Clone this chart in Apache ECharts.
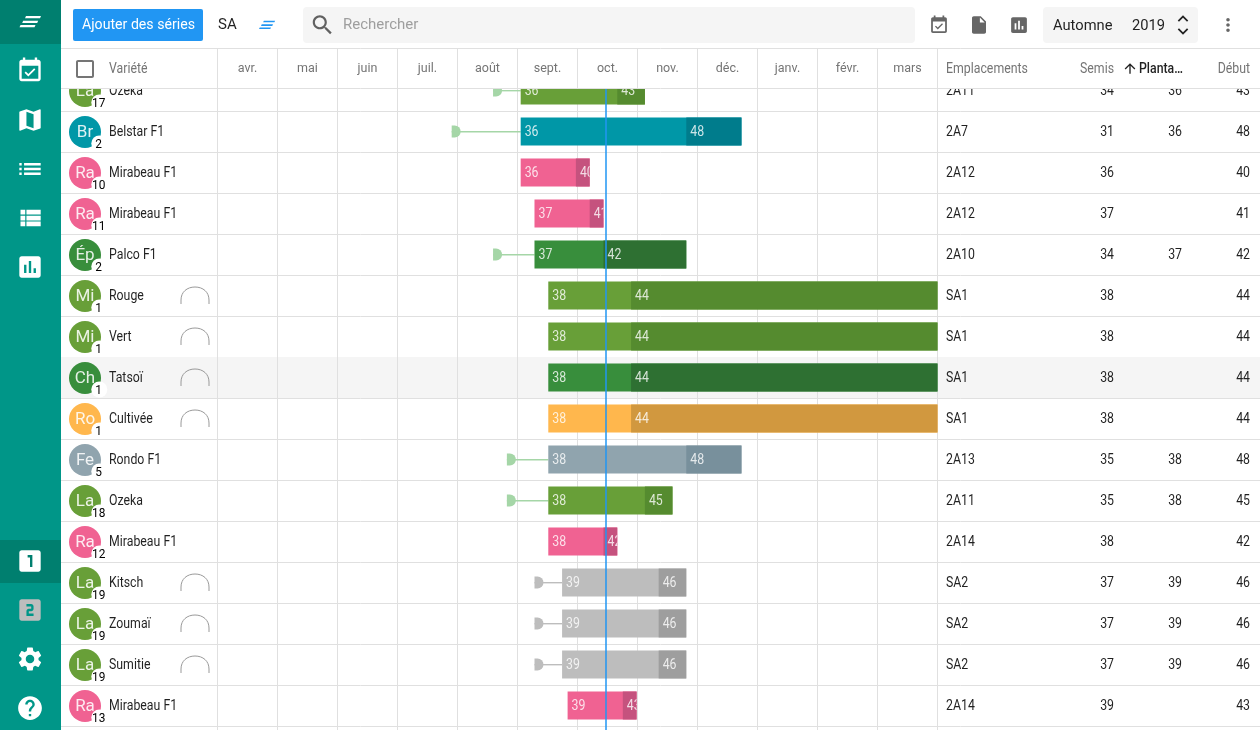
<!DOCTYPE html>
<html>
<head>
<meta charset="utf-8">
<title>Séries</title>
<script src="https://cdn.jsdelivr.net/npm/echarts@6/dist/echarts.min.js"></script>
<style>
html, body {margin: 0; padding: 0; background: #fff; overflow: hidden;}
#chart {width: 1260px; height: 730px;}
</style>
</head>
<body>
<div id="chart"></div>
<script>
//---------------------------Data---------------------------
let monthLabels = ['avr.', 'mai', 'juin', 'juil.', 'août', 'sept.', 'oct.', 'nov.', 'déc.', 'janv.', 'févr.', 'mars'];

let varietyNames = ['Ozeka', 'Belstar F1', 'Mirabeau F1', 'Mirabeau F1', 'Palco F1', 'Rouge', 'Vert', 'Tatsoï', 'Cultivée', 'Rondo F1', 'Ozeka', 'Mirabeau F1', 'Kitsch', 'Zoumaï', 'Sumitie', 'Mirabeau F1'];
let cropCodes = ['La', 'Br', 'Ra', 'Ra', 'Ép', 'Mi', 'Mi', 'Ch', 'Ro', 'Fe', 'La', 'Ra', 'La', 'La', 'La', 'Ra'];
let seriesNumbers = [17, 2, 10, 11, 2, 1, 1, 1, 1, 5, 18, 12, 19, 19, 19, 13];
let locations = ['2A11', '2A7', '2A12', '2A12', '2A10', 'SA1', 'SA1', 'SA1', 'SA1', '2A13', '2A11', '2A14', 'SA2', 'SA2', 'SA2', '2A14'];
let sowWeeks = [34, 31, 36, 37, 34, 38, 38, 38, 38, 35, 35, 38, 37, 37, 37, 39];
let plantWeeks = [36, 36, null, null, 37, null, null, null, null, 38, 38, null, 39, 39, 39, null];
let harvestWeeks = [43, 48, 40, 41, 42, 44, 44, 44, 44, 48, 45, 42, 46, 46, 46, 43];

// bars as they sit on the week scale
let barStarts = [36, 36, 36, 37, 37, 38, 38, 38, 38, 38, 38, 38, 39, 39, 39, 39.4];
let barSplits = [43, 48, 40, 41, 42, 44, 44, 44, 44, 48, 45, 42, 46, 46, 46, 43.4];
let barEnds = [45, 52, 41, 42, 48, 67, 67, 67, 67, 52, 47, 43, 48, 48, 48, 44.4];

let tunnelRows = [5, 6, 7, 8, 12, 13, 14];
let pendingRows = [12, 13, 14];
let hoveredRow = 7;
let todayWeek = 42.2;

//---------------------------Style---------------------------
let weekMin = 14.03;
let weekMax = 66.204;
let rowHeight = 41;
let gridTop = 70;
let gridHeight = 660;
let rowSpan = gridHeight / rowHeight;

let cropColors = {
    'La': ['#689f38', '#558b2f'],
    'Mi': ['#689f38', '#558b2f'],
    'Br': ['#0097a7', '#007c8c'],
    'Ra': ['#f06292', '#c5527e'],
    'Ép': ['#388e3c', '#2e7032'],
    'Ch': ['#388e3c', '#2e7032'],
    'Ro': ['#ffb74d', '#d1983f'],
    'Fe': ['#90a4ae', '#78909c']
};
let pendingColors = ['#bdbdbd', '#9e9e9e'];
let gridColor = '#e0e0e0';
let narrow = 0.88;

let icons = {
    event: 'M16.53 11.06L15.47 10l-4.88 4.88-2.12-2.12-1.06 1.06L10.59 17l5.94-5.94zM19 3h-1V1h-2v2H8V1H6v2H5c-1.11 0-1.99.9-1.99 2L3 19c0 1.1.89 2 2 2h14c1.1 0 2-.9 2-2V5c0-1.1-.9-2-2-2zm0 16H5V8h14v11z',
    map: 'M20.5 3l-.16.03L15 5.1 9 3 3.36 4.9c-.21.07-.36.25-.36.48V20.5c0 .28.22.5.5.5l.16-.03L9 18.9l6 2.1 5.64-1.9c.21-.07.36-.25.36-.48V3.5c0-.28-.22-.5-.5-.5zM15 19l-6-2.11V5l6 2.11V19z',
    list: 'M3 13h2v-2H3v2zm0 4h2v-2H3v2zm0-8h2V7H3v2zm4 4h14v-2H7v2zm0 4h14v-2H7v2zM7 7v2h14V7H7z',
    table: 'M4 14h4v-4H4v4zm0 5h4v-4H4v4zM4 9h4V5H4v4zm5 5h12v-4H9v4zm0 5h12v-4H9v4zM9 5v4h12V5H9z',
    chart: 'M19 3H5c-1.1 0-2 .9-2 2v14c0 1.1.9 2 2 2h14c1.1 0 2-.9 2-2V5c0-1.1-.9-2-2-2zM9 17H7v-7h2v7zm4 0h-2V7h2v10zm4 0h-2v-4h2v4z',
    one: 'M19 3H5c-1.1 0-2 .9-2 2v14c0 1.1.9 2 2 2h14c1.1 0 2-.9 2-2V5c0-1.1-.9-2-2-2zm-5 14h-2V9h-2V7h4v10z',
    two: 'M19 3H5c-1.1 0-1.99.9-1.99 2L3 19c0 1.1.9 2 2 2h14c1.1 0 2-.9 2-2V5c0-1.1-.9-2-2-2zm-4 8c0 1.11-.9 2-2 2h-2v2h4v2H9v-4c0-1.11.9-2 2-2h2V9H9V7h4c1.1 0 2 .89 2 2v2z',
    settings: 'M19.14 12.94c.04-.3.06-.61.06-.94 0-.32-.02-.64-.07-.94l2.03-1.58c.18-.14.23-.41.12-.61l-1.92-3.32c-.12-.22-.37-.29-.59-.22l-2.39.96c-.5-.38-1.03-.7-1.62-.94l-.36-2.54c-.04-.24-.24-.41-.48-.41h-3.84c-.24 0-.43.17-.47.41l-.36 2.54c-.59.24-1.13.57-1.62.94l-2.39-.96c-.22-.08-.47 0-.59.22L2.74 8.87c-.12.21-.08.47.12.61l2.03 1.58c-.05.3-.09.63-.09.94s.02.64.07.94l-2.03 1.58c-.18.14-.23.41-.12.61l1.92 3.32c.12.22.37.29.59.22l2.39-.96c.5.38 1.03.7 1.62.94l.36 2.54c.05.24.24.41.48.41h3.84c.24 0 .44-.17.47-.41l.36-2.54c.59-.24 1.13-.56 1.62-.94l2.39.96c.22.08.47 0 .59-.22l1.92-3.32c.12-.22.07-.47-.12-.61l-2.01-1.58zM12 15.6c-1.98 0-3.6-1.62-3.6-3.6s1.62-3.6 3.6-3.6 3.6 1.62 3.6 3.6-1.62 3.6-3.6 3.6z',
    help: 'M12 2C6.48 2 2 6.48 2 12s4.48 10 10 10 10-4.48 10-10S17.52 2 12 2zm1 17h-2v-2h2v2zm2.07-7.75l-.9.92C13.45 12.9 13 13.5 13 15h-2v-.5c0-1.1.45-2.1 1.17-2.83l1.24-1.26c.37-.36.59-.86.59-1.41 0-1.1-.9-2-2-2s-2 .9-2 2H8c0-2.21 1.79-4 4-4s4 1.79 4 4c0 .88-.36 1.68-.93 2.25z',
    search: 'M15.5 14h-.79l-.28-.27C15.41 12.59 16 11.11 16 9.5 16 5.91 13.09 3 9.5 3S3 5.91 3 9.5 5.91 16 9.5 16c1.61 0 3.09-.59 4.23-1.57l.27.28v.79l5 4.99L20.49 19l-4.99-5zm-6 0C7.01 14 5 11.99 5 9.5S7.01 5 9.5 5 14 7.01 14 9.5 11.99 14 9.5 14z',
    file: 'M6 2c-1.1 0-1.99.9-1.99 2L4 20c0 1.1.89 2 1.99 2H18c1.1 0 2-.9 2-2V8l-6-6H6zm7 7V3.5L18.5 9H13z',
    more: 'M12 8c1.1 0 2-.9 2-2s-.9-2-2-2-2 .9-2 2 .9 2 2 2zm0 2c-1.1 0-2 .9-2 2s.9 2 2 2 2-.9 2-2-.9-2-2-2zm0 6c-1.1 0-2 .9-2 2s.9 2 2 2 2-.9 2-2-.9-2-2-2z',
    up: 'M4 12l1.41 1.41L11 7.83V20h2V7.83l5.58 5.59L20 12l-8-8-8 8z',
    less: 'M12 8l-6 6 1.41 1.41L12 10.83l4.59 4.58L18 14z',
    expand: 'M16.59 8.59L12 13.17 7.41 8.59 6 10l6 6 6-6z',
    box: 'M19 5v14H5V5h14m0-2H5c-1.1 0-2 .9-2 2v14c0 1.1.9 2 2 2h14c1.1 0 2-.9 2-2V5c0-1.1-.9-2-2-2z'
};

//---------------------------Function---------------------------
function label(text, x, y, size, color, align, squeeze, weight) {
    return {
        type: 'text',
        x: x,
        y: y + 1,
        scaleX: squeeze,
        silent: true,
        style: {
            text: text,
            fill: color,
            font: (weight || 400) + ' ' + size + 'px Roboto',
            textAlign: align || 'left',
            textVerticalAlign: 'middle'
        }
    };
}

function box(x, y, w, h, color, r) {
    return {type: 'rect', silent: true, shape: {x: x, y: y, width: w, height: h, r: r || 0}, style: {fill: color}};
}

// icons are on the 24 grid, the two moves keep that box when scaled
function icon(name, cx, cy, size, color) {
    return {
        type: 'path',
        silent: true,
        shape: {pathData: 'M0 0M24 24' + icons[name], x: cx - size / 2, y: cy - size / 2, width: size, height: size, layout: 'cover'},
        style: {fill: color}
    };
}

function logo(x, y, k, color) {
    let bars = [[5.5, 0], [2.7, 4.7], [0, 9]];
    return bars.map(function (b) {
        let bx = x + b[0] * k;
        let by = y + b[1] * k;
        return {
            type: 'polygon',
            silent: true,
            shape: {points: [[bx + 1 * k, by], [bx + 16 * k, by], [bx + 15 * k, by + 2.2 * k], [bx, by + 2.2 * k]]},
            style: {fill: color}
        };
    });
}

function renderRowBack(params, api) {
    let i = api.value(0);
    let top = api.coord([weekMin, i])[1];
    let bottom = api.coord([weekMin, i + 1])[1];
    let children = [];
    if (i === hoveredRow) {
        children.push(box(61, top, 1199, bottom - top, '#f5f5f5'));
    }
    children.push({
        type: 'line',
        silent: true,
        shape: {x1: 61, y1: bottom + 0.5, x2: 1260, y2: bottom + 0.5},
        style: {stroke: gridColor, lineWidth: 1}
    });
    return {type: 'group', children: children};
}

function renderBar(params, api) {
    let i = params.dataIndex;
    let mid = api.coord([weekMin, i + 0.5])[1];
    let h = 28;
    let top = mid - h / 2;
    let x0 = api.coord([barStarts[i], 0])[0];
    let x1 = api.coord([barSplits[i], 0])[0];
    let x2 = api.coord([Math.min(barEnds[i], weekMax), 0])[0];
    let pending = pendingRows.indexOf(i) >= 0;
    let colors = pending ? pendingColors : cropColors[cropCodes[i]];
    let children = [];
    if (plantWeeks[i] !== null) {
        let xs = api.coord([sowWeeks[i], 0])[0];
        let stub = pending ? '#bdbdbd' : '#a5d6a7';
        children.push(box(xs, mid - 0.5, x0 - xs, 1.4, stub));
        children.push(box(xs, mid - 6, 9, 12, stub, [0, 6, 6, 0]));
    }
    // light part runs under the dark one so no seam shows at the split
    children.push(box(x0, top, x2 - x0, h, colors[0]));
    children.push(box(x1, top, x2 - x1, h, colors[1]));
    let first = plantWeeks[i] !== null ? plantWeeks[i] : sowWeeks[i];
    let textColor = 'rgba(255,255,255,0.8)';
    children.push({
        type: 'group',
        clipPath: {type: 'rect', shape: {x: x0, y: top, width: x2 - x0, height: h}},
        children: [
            label(String(first), x0 + 4, mid, 14, textColor, 'left', narrow),
            label(String(harvestWeeks[i]), x1 + 4, mid, 14, textColor, 'left', narrow)
        ]
    });
    return {type: 'group', children: children};
}

function renderRowText(params, api) {
    let i = params.dataIndex;
    let mid = api.coord([weekMin, i + 0.5])[1];
    let ink = 'rgba(0,0,0,0.87)';
    let colors = cropColors[cropCodes[i]];
    let children = [
        {type: 'circle', silent: true, shape: {cx: 85, cy: mid + 0.5, r: 16}, style: {fill: colors[0]}},
        label(cropCodes[i], 85, mid, 17, 'rgba(255,255,255,0.87)', 'center', 1),
        {type: 'circle', silent: true, shape: {cx: 99.3, cy: mid + 12, r: 8}, style: {fill: '#fff'}},
        label(String(seriesNumbers[i]), 98.7, mid + 12, 12.5, '#000', 'center', 0.95),
        label(varietyNames[i], 109, mid, 14, ink, 'left', narrow),
        label(locations[i], 946, mid, 14, ink, 'left', narrow),
        label(String(sowWeeks[i]), 1114, mid, 14, ink, 'right', narrow),
        label(String(harvestWeeks[i]), 1250, mid, 14, ink, 'right', narrow)
    ];
    if (plantWeeks[i] !== null) {
        children.push(label(String(plantWeeks[i]), 1182, mid, 14, ink, 'right', narrow));
    }
    if (tunnelRows.indexOf(i) >= 0) {
        children.push({
            type: 'path',
            silent: true,
            shape: {pathData: 'M0 17V13C0 5 6 0 14 0C22 0 28 5 28 13V17', x: 181, y: mid - 8.5, width: 28, height: 17, layout: 'cover'},
            style: {fill: null, stroke: '#999', lineWidth: 1}
        });
    }
    return {type: 'group', children: children};
}

function renderChrome() {
    let head = '#757575';
    let dark = '#007f6f';
    let children = [
        // toolbar and header row
        box(61, 0, 1199, 88, '#fff'),
        {type: 'line', silent: true, shape: {x1: 61, y1: 48.5, x2: 1260, y2: 48.5}, style: {stroke: gridColor, lineWidth: 1}},
        {type: 'line', silent: true, shape: {x1: 61, y1: 88.5, x2: 1260, y2: 88.5}, style: {stroke: gridColor, lineWidth: 1}},
        box(73, 9, 130, 32, '#2196f3', 2),
        label('Ajouter des séries', 82, 24.5, 14, '#fff', 'left', 1.01),
        label('SA', 218, 24.5, 15, 'rgba(0,0,0,0.87)', 'left', 1),
        box(303, 7, 612, 36, '#f5f5f5', 4),
        icon('search', 322.5, 25, 26, '#616161'),
        label('Rechercher', 343, 24, 15, '#9e9e9e', 'left', 1),
        icon('event', 939, 25, 21, '#666'),
        icon('file', 979, 25, 21, '#666'),
        icon('chart', 1019, 25, 21, '#666'),
        box(1043, 7, 155, 36, '#f5f5f5', 4),
        label('Automne', 1053, 25, 14, 'rgba(0,0,0,0.87)', 'left', 1.05),
        label('2019', 1132, 25, 14, 'rgba(0,0,0,0.87)', 'left', 1.05),
        icon('less', 1183, 18.8, 21, '#222'),
        icon('expand', 1183, 31.2, 21, '#222'),
        icon('more', 1228, 25, 21, '#666'),
        icon('box', 85, 69, 24, head),
        label('Variété', 109, 68, 14, head, 'left', narrow),
        label('Emplacements', 946, 68, 14, head, 'left', narrow),
        label('Semis', 1114, 68, 14, head, 'right', narrow),
        icon('up', 1130, 68.5, 16, 'rgba(0,0,0,0.87)'),
        label('Planta…', 1139, 68, 14, 'rgba(0,0,0,0.87)', 'left', narrow, 500),
        label('Début', 1250, 68, 14, head, 'right', narrow),
        // side bar
        box(0, 0, 61, 730, '#009688'),
        box(0, 0, 61, 44, dark),
        box(0, 540, 61, 43, dark),
        icon('event', 30, 70.5, 28.5, '#fff'),
        icon('map', 30, 120, 28.5, '#fff'),
        icon('list', 30, 169, 28.5, '#fff'),
        icon('table', 30, 218, 28.5, '#fff'),
        icon('chart', 30, 267, 28.5, '#fff'),
        icon('one', 30, 561, 28.5, '#fff'),
        icon('two', 30, 610, 28.5, '#bdbdbd'),
        icon('settings', 30, 659, 28.5, '#fff'),
        icon('help', 30, 708, 28.5, '#fff')
    ];
    children = children.concat(logo(19.5, 16, 1, '#fff'), logo(259, 20.7, 0.75, '#2196f3'));
    return {type: 'group', children: children};
}

//---------------------------Chart---------------------------
let chart = echarts.init(document.getElementById('chart'));
let rows = varietyNames.map(function (name, i) {
    return i;
});

let option = {
    animation: false,
    grid: [
        {left: 217.5, top: gridTop, width: 720, height: gridHeight},
        {left: 217.5, top: 48, width: 720, height: 40}
    ],
    xAxis: [
        {type: 'value', gridIndex: 0, min: weekMin, max: weekMax, show: false},
        {
            type: 'category', gridIndex: 0, data: monthLabels, z: 1,
            axisLine: {show: false}, axisTick: {show: false}, axisLabel: {show: false},
            splitLine: {show: true, interval: 0, lineStyle: {color: gridColor}}
        },
        {
            type: 'category', gridIndex: 1, data: monthLabels, position: 'bottom', z: 20,
            axisLine: {show: false}, axisTick: {show: false},
            axisLabel: {inside: true, margin: 19, interval: 0, color: '#757575', fontSize: 12.5, fontFamily: 'Roboto', verticalAlign: 'middle'},
            splitLine: {show: true, interval: 0, lineStyle: {color: gridColor}}
        }
    ],
    yAxis: [
        {type: 'value', gridIndex: 0, min: 0, max: rowSpan, inverse: true, show: false},
        {type: 'value', gridIndex: 1, min: 0, max: 1, show: false}
    ],
    series: [
        {
            type: 'custom', xAxisIndex: 0, yAxisIndex: 0, z: 0, silent: true,
            renderItem: renderRowBack, data: rows, encode: {y: 0}
        },
        {
            type: 'custom', xAxisIndex: 0, yAxisIndex: 0, z: 2, silent: true,
            renderItem: renderBar,
            data: rows.map(function (i) {
                return [barStarts[i], i + 0.5, barSplits[i], barEnds[i]];
            }),
            encode: {x: [0, 2, 3], y: 1},
            markLine: {
                silent: true,
                symbol: 'none',
                label: {show: false},
                lineStyle: {color: '#2196f3', width: 1.5, type: 'solid'},
                data: [{xAxis: todayWeek}]
            }
        },
        {
            type: 'custom', xAxisIndex: 0, yAxisIndex: 0, z: 3, silent: true,
            renderItem: renderRowText,
            data: rows.map(function (i) {
                return [barStarts[i], i + 0.5];
            }),
            encode: {x: 0, y: 1}
        },
        {
            type: 'custom', coordinateSystem: 'none', z: 10, silent: true,
            renderItem: renderChrome, data: [0]
        }
    ]
};
chart.setOption(option);
</script>
</body>
</html>
